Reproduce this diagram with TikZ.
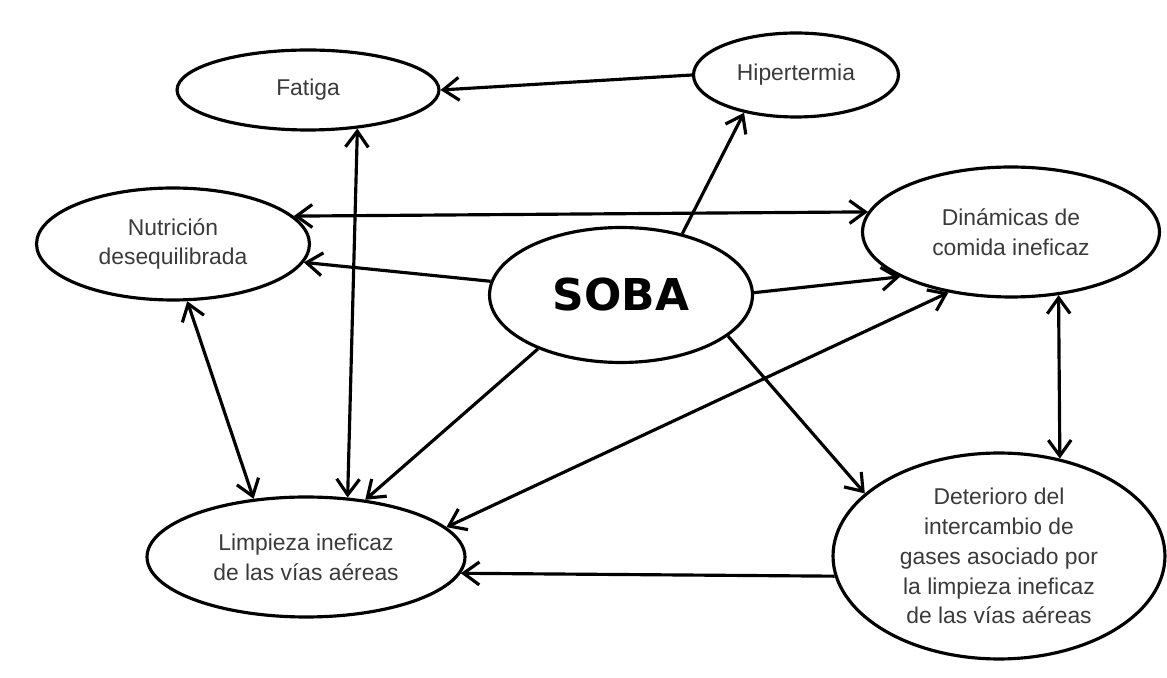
\documentclass[tikz,border=0pt]{standalone}
\usepackage{fontspec}
\setmainfont{Liberation Sans}
\newfontfamily\sobafont{DejaVu Sans}
\usetikzlibrary{arrows.meta, shapes.geometric}
\definecolor{txtc}{HTML}{3A3A3A}

\begin{document}
\begin{tikzpicture}[x=0.02cm, y=-0.02cm, line width=1.8pt,
      >={Straight Barb[length=9pt,width=13pt]},
      dx/.style={ellipse, draw, inner sep=0pt, align=center, text=txtc,
                 font=\fontsize{13}{17}\selectfont}]
    \useasboundingbox[fill=white] (0,0) rectangle (1167,678);
    \node[dx, minimum width=5.24cm, minimum height=1.6cm] (fat) at (308,90) {Fatiga};
    \node[dx, minimum width=4.1cm, minimum height=1.68cm] (hip) at (796,75) {Hipertermia};
    \node[dx, minimum width=5.46cm, minimum height=2.24cm] (nut) at (173,244)
        {Nutrición\\desequilibrada};
    \node[dx, minimum width=5.26cm, minimum height=2.7cm, text=black,
          font=\sobafont\bfseries\fontsize{25}{28}\selectfont] (soba) at (621,295) {SOBA};
    \node[dx, minimum width=5.94cm, minimum height=2.6cm] (din) at (1011,232)
        {Dinámicas de\\comida ineficaz};
    \node[dx, minimum width=6.36cm, minimum height=2.4cm] (lim) at (306,557)
        {Limpieza ineficaz\\de las vías aéreas};
    \node[dx, minimum width=6.64cm, minimum height=4.12cm] (det) at (999,556)
        {Deterioro del\\intercambio de\\gases asociado por\\la limpieza ineficaz\\de las vías aéreas};
    % connectors
    \draw[->] (hip.180) -- (fat.0);
    \draw[->] (soba.45) -- (hip.216);
    \draw[<->] (nut.13) -- (din.172);
    \draw[->] (soba.174) -- (nut.-8);
    \draw[->] (soba.1) -- (din.202);
    \draw[<->] (nut.-76) -- (lim.132);
    \draw[<->] (fat.-38) -- (lim.55);
    \draw[->] (soba.213) -- (lim.44);
    \draw[<->] (din.224) -- (lim.12);
    \draw[->] (soba.-21) -- (det.155);
    \draw[<->] (din.-53) -- (det.58);
    \draw[->] (det.187) -- (lim.-6);
\end{tikzpicture}
\end{document}
